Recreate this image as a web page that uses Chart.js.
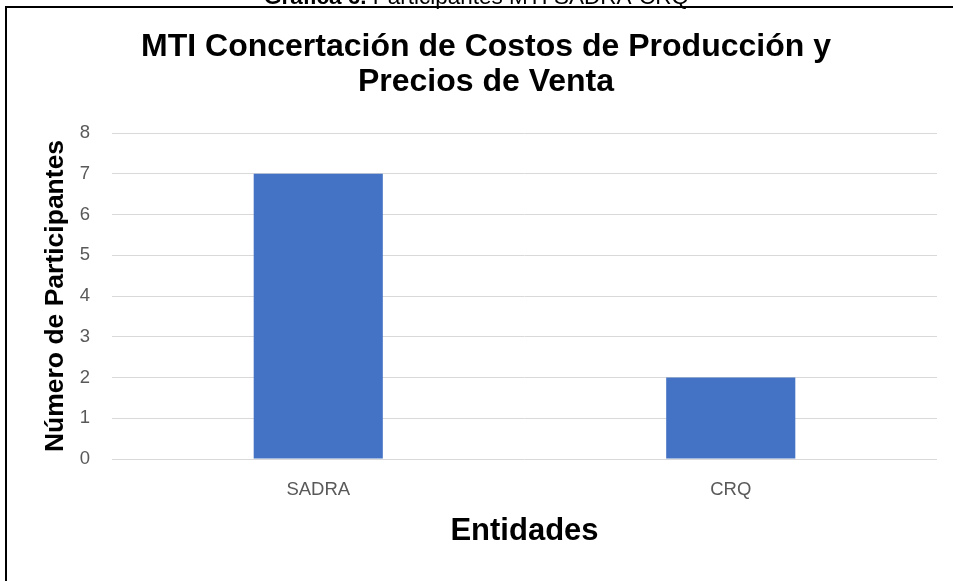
<!DOCTYPE html>
<html>
<head>
<meta charset="utf-8">
<script src="https://cdn.jsdelivr.net/npm/chart.js@4.4.0/dist/chart.umd.min.js"></script>
<style>
  html, body { margin: 0; padding: 0; background: #ffffff; overflow: hidden; }
  #wrap { position: relative; width: 953px; height: 581px; overflow: hidden; }
  #frame { position: absolute; left: 5px; top: 6px; width: 1000px; height: 1000px; border: 2px solid #000; box-sizing: border-box; }
  #caption { position: absolute; left: 0; width: 953px; top: -14px; height: 22px; line-height: 22px; text-align: center;
             font-family: "Liberation Sans", Arial, sans-serif; font-size: 22.5px; color: #000; white-space: nowrap; }
  #c { position: absolute; left: 0; top: 0; }
</style>
</head>
<body>
<div id="wrap">
  <div id="frame"></div>
  <canvas id="c" width="953" height="581"></canvas>
  <div id="caption"><b>Gráfica 6.</b> Participantes MTI SADRA-CRQ</div>
</div>
<script>
const categories = ["SADRA", "CRQ"];
const participantes = [7, 2];
const yTicks = [0, 1, 2, 3, 4, 5, 6, 7, 8];
const chartTitle = ["MTI Concertación de Costos de Producción y", "Precios de Venta"];
const xTitle = "Entidades";
const yTitle = "Número de Participantes";

new Chart(document.getElementById("c"), {
  type: "bar",
  data: {
    labels: categories,
    datasets: [{
      label: "Participantes",
      data: participantes,
      backgroundColor: "#4472C4",
      borderWidth: 0,
      barPercentage: 0.313,
      categoryPercentage: 1.0
    }]
  },
  options: {
    responsive: false,
    animation: false,
    devicePixelRatio: 1,
    layout: { padding: { left: 35, right: 16, top: 0, bottom: 0 } },
    plugins: {
      legend: { display: false },
      tooltip: { enabled: false },
      title: {
        display: true,
        text: chartTitle,
        color: "#000000",
        font: { family: "'Liberation Sans', Arial, sans-serif", size: 32, weight: "bold", lineHeight: 35 / 32 },
        padding: { top: 29.5, bottom: 33.5 }
      }
    },
    scales: {
      x: {
        grid: { display: false, drawTicks: false },
        border: { display: false },
        ticks: {
          color: "#595959",
          padding: 20,
          font: { family: "'Liberation Sans', Arial, sans-serif", size: 18.5 }
        },
        title: {
          display: true,
          text: xTitle,
          color: "#000000",
          font: { family: "'Liberation Sans', Arial, sans-serif", size: 31, weight: "bold", lineHeight: 1.2 },
          padding: { top: 0, bottom: 31 }
        },
        afterFit: s => { s.height = 122; }
      },
      y: {
        min: 0,
        max: 8,
        afterBuildTicks: s => { s.ticks = yTicks.map(v => ({ value: v })); },
        grid: { color: "#D9D9D9", lineWidth: 1, drawTicks: false },
        border: { display: false },
        ticks: {
          color: "#595959",
          padding: 22,
          font: { family: "'Liberation Sans', Arial, sans-serif", size: 18.5 }
        },
        title: {
          display: true,
          text: yTitle,
          color: "#000000",
          font: { family: "'Liberation Sans', Arial, sans-serif", size: 26.5, weight: "bold", lineHeight: 1.2 },
          padding: { top: 5, bottom: 0 }
        },
        afterFit: s => { s.width = 77; }
      }
    }
  }
});
</script>
</body>
</html>
